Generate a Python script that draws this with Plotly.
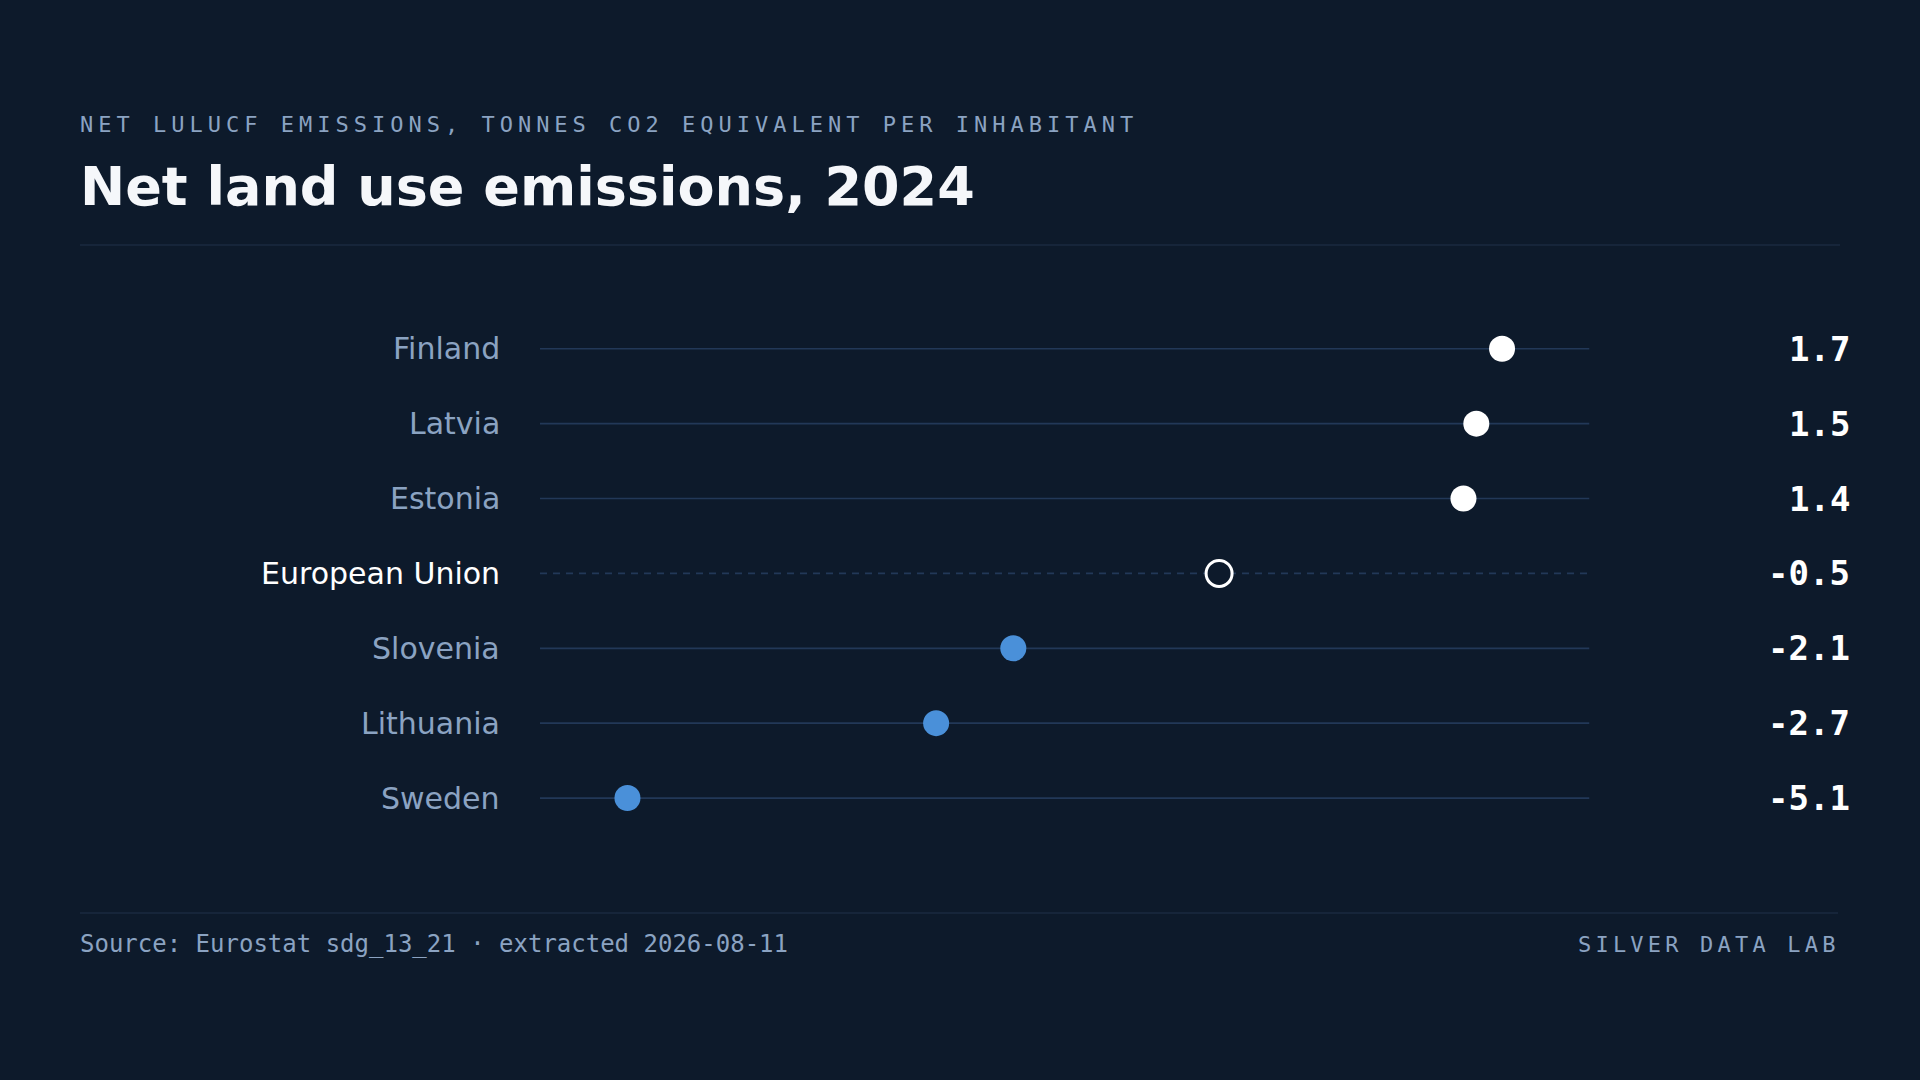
import plotly.graph_objects as go

# ---- data ----
countries = ["Finland", "Latvia", "Estonia", "European Union", "Slovenia", "Lithuania", "Sweden"]
values = [1.7, 1.5, 1.4, -0.5, -2.1, -2.7, -5.1]
aggregate = "European Union"

subtitle = "NET LULUCF EMISSIONS, TONNES CO2 EQUIVALENT PER INHABITANT"
title = "Net land use emissions, 2024"
source = "Source: Eurostat sdg_13_21 \u00b7 extracted 2026-08-11"
brand = "SILVER DATA LAB"

# ---- style ----
W, H = 1920, 1080
BG = "#0d1a2b"
ROWLINE = "#223858"
DIVIDER = "#1a2a40"
MUTED = "#8ba3c2"
BLUE = "#4a90d9"
WHITE = "#ffffff"
SANS = "DejaVu Sans"
MONO = "DejaVu Sans Mono"

span = max(values) - min(values)
lo = min(values) - 0.1 * span
hi = max(values) + 0.1 * span

fig = go.Figure()

for i, (c, v) in enumerate(zip(countries, values)):
    is_agg = c == aggregate
    fig.add_trace(go.Scatter(
        x=[lo, hi], y=[i, i], mode="lines",
        line=dict(color=ROWLINE, width=1.7, dash="7px,6px" if is_agg else "solid"),
        hoverinfo="skip", showlegend=False,
    ))

# regular markers
reg_x = [v for c, v in zip(countries, values) if c != aggregate]
reg_y = [i for i, c in enumerate(countries) if c != aggregate]
reg_col = [WHITE if v >= 0 else BLUE for c, v in zip(countries, values) if c != aggregate]
fig.add_trace(go.Scatter(
    x=reg_x, y=reg_y, mode="markers",
    marker=dict(size=26, color=reg_col, line=dict(width=0)),
    showlegend=False, hoverinfo="x+y",
))
# aggregate marker (hollow)
agg_x = [v for c, v in zip(countries, values) if c == aggregate]
agg_y = [i for i, c in enumerate(countries) if c == aggregate]
fig.add_trace(go.Scatter(
    x=agg_x, y=agg_y, mode="markers",
    marker=dict(size=26, color=BG, line=dict(width=3, color=WHITE)),
    showlegend=False, hoverinfo="x+y",
))

annotations = []
for i, (c, v) in enumerate(zip(countries, values)):
    annotations.append(dict(
        x=502 / W, xref="paper", y=i, yref="y", xanchor="right", yanchor="middle",
        text=c, showarrow=False,
        font=dict(family=SANS, size=30, color=WHITE if c == aggregate else MUTED),
    ))
    annotations.append(dict(
        x=1852 / W, xref="paper", y=i, yref="y", xanchor="right", yanchor="middle",
        text=f"{v:.1f}", showarrow=False, align="right",
        font=dict(family=MONO, size=34, color=WHITE, weight="bold"),
    ))

annotations += [
    dict(x=78 / W, xref="paper", y=1 - 124 / H, yref="paper", xanchor="left", yanchor="middle",
         text=subtitle, showarrow=False, align="left",
         font=dict(family=MONO, size=22, color=MUTED)),
    dict(x=78 / W, xref="paper", y=1 - 186 / H, yref="paper", xanchor="left", yanchor="middle",
         text=f"<b>{title}</b>", showarrow=False, align="left",
         font=dict(family=SANS, size=54, color="#f5f7fa")),
    dict(x=78 / W, xref="paper", y=1 - 944 / H, yref="paper", xanchor="left", yanchor="middle",
         text=source, showarrow=False, align="left",
         font=dict(family=MONO, size=24, color=MUTED)),
    dict(x=1842 / W, xref="paper", y=1 - 944 / H, yref="paper", xanchor="right", yanchor="middle",
         text=brand, showarrow=False, align="right",
         font=dict(family=MONO, size=22, color=MUTED)),
]

shapes = [
    dict(type="line", xref="paper", yref="paper", x0=80 / W, x1=1840 / W,
         y0=1 - 245 / H, y1=1 - 245 / H, line=dict(color=DIVIDER, width=1.5)),
    dict(type="line", xref="paper", yref="paper", x0=80 / W, x1=1838 / W,
         y0=1 - 913 / H, y1=1 - 913 / H, line=dict(color=DIVIDER, width=1.5)),
]

n = len(countries)
fig.update_layout(
    width=W, height=H,
    paper_bgcolor=BG, plot_bgcolor=BG,
    margin=dict(l=0, r=0, t=0, b=0),
    xaxis=dict(visible=False, range=[lo, hi], domain=[540 / W, 1589.5 / W], fixedrange=True),
    yaxis=dict(visible=False, range=[n - 0.5, -0.5], domain=[1 - 835.5 / H, 1 - 311.3 / H], fixedrange=True),
    annotations=annotations,
    shapes=shapes,
    showlegend=False,
)

post = """
(function(){
  document.documentElement.style.margin = '0';
  document.documentElement.style.background = '#0d1a2b';
  document.body.style.margin = '0';
  document.body.style.padding = '0';
  document.body.style.background = '#0d1a2b';
  document.body.style.overflow = 'hidden';
  var gd = document.getElementById('{plot_id}');
  var spacing = {
    'NET LULUCF EMISSIONS, TONNES CO2 EQUIVALENT PER INHABITANT': '5.0px',
    'SILVER DATA LAB': '4.2px'
  };
  function apply(){
    var texts = gd.querySelectorAll('text.annotation-text');
    texts.forEach(function(t){
      var s = spacing[t.textContent];
      if (s) { t.style.letterSpacing = s; }
    });
  }
  apply();
  if (gd.on) { gd.on('plotly_afterplot', apply); }
  setTimeout(apply, 50);
})();
"""

fig.write_html("out.html", post_script=post, config={"displayModeBar": False})
